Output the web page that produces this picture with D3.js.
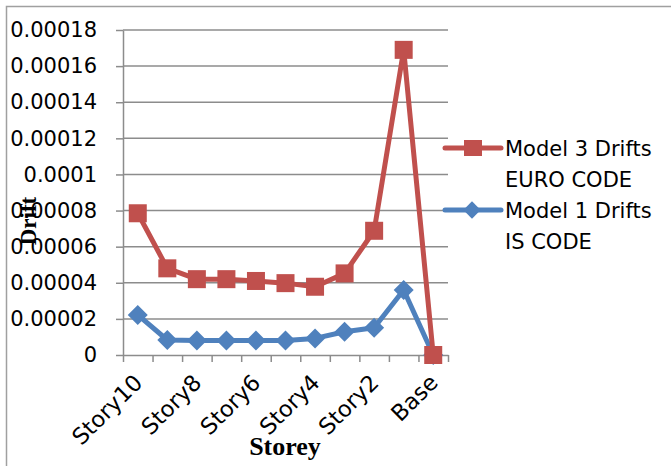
<!DOCTYPE html>
<html><head><meta charset="utf-8">
<script src="https://cdn.jsdelivr.net/npm/d3@7"></script>
<style>body{margin:0;background:#fff}</style>
</head><body>
<script>
const categories = ["Story10","Story9","Story8","Story7","Story6","Story5","Story4","Story3","Story2","Story1","Base"];
const shownLabels = ["Story10","Story8","Story6","Story4","Story2","Base"];
const model3 = [0.0000785,0.000048,0.000042,0.000042,0.000041,0.0000398,0.0000378,0.0000452,0.0000688,0.000169,0];
const model1 = [0.0000222,0.0000083,0.000008,0.000008,0.000008,0.000008,0.0000092,0.0000129,0.0000151,0.000036,0];
const yTicks = [0,0.00002,0.00004,0.00006,0.00008,0.0001,0.00012,0.00014,0.00016,0.00018];
const yTickLabels = ["0","0.00002","0.00004","0.00006","0.00008","0.0001","0.00012","0.00014","0.00016","0.00018"];
const seriesNames = [["Model 3 Drifts","EURO CODE"],["Model 1 Drifts","IS CODE"]];

const W=671,H=466;
const svg=d3.select("body").append("svg").attr("width",W).attr("height",H);
const font="'DejaVu Sans', sans-serif";
svg.append("rect").attr("x",6.5).attr("y",6.5).attr("width",W).attr("height",H)
  .attr("fill","none").attr("stroke","#a0a0a0").attr("stroke-width",1.5);

const L=123,R=448,T=30,B=355;
const y=d3.scaleLinear().domain([0,0.00018]).range([B,T]);
const xb=d3.scaleBand().domain(categories).range([L,R]).padding(0);
const xi=d3.scaleLinear().domain([0,categories.length]).range([L,R]);
const cx=c=>xb(c)+xb.bandwidth()/2;

svg.append("g").selectAll("line").data(yTicks.slice(1)).join("line")
  .attr("x1",L).attr("x2",R).attr("y1",d=>y(d)).attr("y2",d=>y(d))
  .attr("stroke","#8c8c8c").attr("stroke-width",1.5);

const ya=svg.append("g").attr("transform",`translate(${L},0)`)
  .call(d3.axisLeft(y).tickValues(yTicks).tickFormat((d,i)=>yTickLabels[i]).tickSize(7).tickSizeOuter(0).tickPadding(19));
ya.select(".domain").attr("stroke","#8c8c8c").attr("stroke-width",1.5);
ya.selectAll(".tick line").attr("stroke","#8c8c8c").attr("stroke-width",1.5);
ya.selectAll("text").attr("font-family",font).attr("font-size",21).attr("fill","#000");

const xa=svg.append("g").attr("transform",`translate(0,${B})`)
  .call(d3.axisBottom(xi).tickValues(d3.range(categories.length+1)).tickFormat("").tickSize(7).tickSizeOuter(0));
xa.select(".domain").attr("stroke","#8c8c8c").attr("stroke-width",1.5);
xa.selectAll(".tick line").attr("stroke","#8c8c8c").attr("stroke-width",1.5);

svg.append("g").selectAll("text").data(shownLabels).join("text")
  .attr("transform",d=>`translate(${cx(d)+6},${B+29}) rotate(-45)`)
  .attr("text-anchor","end").attr("font-family",font).attr("font-size",22.5).attr("fill","#000")
  .text(d=>d);

svg.append("text").attr("x",285).attr("y",455).attr("text-anchor","middle")
  .attr("font-family","'Liberation Serif', 'Times New Roman', serif").attr("font-weight","bold").attr("font-size",26).text("Storey");
svg.append("text").attr("transform","translate(36,221) rotate(-90)").attr("text-anchor","middle")
  .attr("font-family","'Liberation Serif', 'Times New Roman', serif").attr("font-weight","bold").attr("font-size",23).text("Drift");

const red="#C0504D", blue="#4F81BD";
const line=d3.line().x((d,i)=>cx(categories[i])).y(d=>y(d));

svg.append("path").datum(model1).attr("d",line).attr("fill","none").attr("stroke",blue).attr("stroke-width",5).attr("stroke-linejoin","round");
svg.append("g").selectAll("path").data(model1).join("path")
  .attr("d",d3.symbol().type(d3.symbolSquare).size(200))
  .attr("transform",(d,i)=>`translate(${cx(categories[i])},${y(d)}) rotate(45)`)
  .attr("fill",blue);

svg.append("path").datum(model3).attr("d",line).attr("fill","none").attr("stroke",red).attr("stroke-width",5).attr("stroke-linejoin","round");
svg.append("g").selectAll("rect").data(model3).join("rect")
  .attr("x",(d,i)=>cx(categories[i])-9).attr("y",d=>y(d)-9).attr("width",18).attr("height",18)
  .attr("fill",red);

const lg=svg.append("g");
const legY=[148,210];
const cols=[red,blue];
legY.forEach((ly,k)=>{
  lg.append("line").attr("x1",445).attr("x2",501).attr("y1",ly).attr("y2",ly).attr("stroke",cols[k]).attr("stroke-width",5).attr("stroke-linecap","round");
  if(k===0){
    lg.append("rect").attr("x",464).attr("y",ly-8).attr("width",18).attr("height",16).attr("fill",red);
  } else {
    lg.append("path").attr("d",d3.symbol().type(d3.symbolSquare).size(150)).attr("transform",`translate(472,${ly}) rotate(45)`).attr("fill",blue);
  }
  seriesNames[k].forEach((t,j)=>{
    lg.append("text").attr("x",505).attr("y",ly+8+j*31).attr("font-family",font).attr("font-size",21).attr("fill","#000").text(t);
  });
});
</script>
</body></html>
